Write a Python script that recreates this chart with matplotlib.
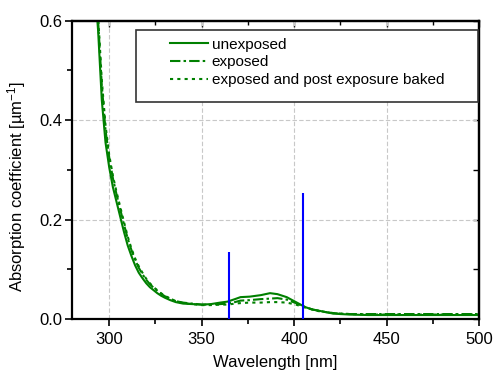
import matplotlib
matplotlib.use("Agg")
import matplotlib.pyplot as plt
from matplotlib.patches import Rectangle
from matplotlib.ticker import MultipleLocator, FormatStrFormatter

plt.rcParams['font.family'] = ['Liberation Sans', 'DejaVu Sans']
plt.rcParams['mathtext.fontset'] = 'custom'
plt.rcParams['mathtext.rm'] = 'Liberation Sans'
plt.rcParams['mathtext.it'] = 'Liberation Sans'

wl_unexp = [292, 294, 296, 298, 300, 302, 304, 306, 308, 310, 312, 314, 316, 318, 320, 322, 324, 326, 328, 330,
            333, 336, 340, 345, 350, 355, 360, 364, 368, 371, 376, 382, 387, 391, 396, 401, 406, 410, 413, 417,
            421, 425, 430, 440, 460, 480, 500]
abs_unexp = [0.68, 0.58, 0.44, 0.355, 0.305, 0.265, 0.235, 0.205, 0.175, 0.148, 0.127, 0.108, 0.093, 0.082, 0.072,
             0.064, 0.058, 0.052, 0.047, 0.043, 0.038, 0.034, 0.031, 0.030, 0.029, 0.030, 0.033, 0.035, 0.040,
             0.044, 0.045, 0.048, 0.052, 0.050, 0.044, 0.034, 0.024, 0.019, 0.017, 0.014, 0.011, 0.010, 0.009,
             0.008, 0.008, 0.008, 0.008]

wl_exp = wl_unexp
abs_exp = [0.70, 0.60, 0.47, 0.38, 0.325, 0.283, 0.25, 0.22, 0.19, 0.162, 0.139, 0.119, 0.103, 0.09, 0.079, 0.07,
           0.063, 0.057, 0.051, 0.046, 0.041, 0.036, 0.033, 0.031, 0.029, 0.029, 0.030, 0.031, 0.034, 0.037,
           0.038, 0.040, 0.041, 0.042, 0.039, 0.032, 0.024, 0.019, 0.017, 0.014, 0.012, 0.011, 0.010, 0.010,
           0.010, 0.010, 0.010]

wl_peb = wl_unexp
abs_peb = [0.71, 0.61, 0.48, 0.39, 0.33, 0.288, 0.255, 0.225, 0.195, 0.166, 0.142, 0.122, 0.106, 0.093, 0.081,
           0.072, 0.064, 0.058, 0.052, 0.047, 0.041, 0.036, 0.032, 0.030, 0.028, 0.028, 0.029, 0.029, 0.031,
           0.032, 0.033, 0.033, 0.034, 0.034, 0.033, 0.029, 0.023, 0.019, 0.016, 0.014, 0.012, 0.011, 0.010,
           0.009, 0.009, 0.009, 0.009]

laser_wl = [365, 405]
laser_height = [0.134, 0.253]

labels = ["unexposed", "exposed", "exposed and post exposure baked"]

fig = plt.figure(figsize=(4.94, 3.74), dpi=100)
ax = fig.add_axes([0.1462, 0.147, 0.8234, 0.798])

green = '#008000'
ax.plot(wl_unexp, abs_unexp, color=green, lw=1.5, ls='-', label=labels[0])
ax.plot(wl_exp, abs_exp, color=green, lw=1.5, ls=(0, (5, 1.5, 1.2, 1.5)), label=labels[1])
ax.plot(wl_peb, abs_peb, color=green, lw=1.5, ls=(0, (1.5, 2)), label=labels[2])
ax.vlines(laser_wl, 0, laser_height, colors='#0000ff', lw=1.5, zorder=3)

ax.set_xlim(280, 500)
ax.set_ylim(0, 0.6)
ax.xaxis.set_major_locator(MultipleLocator(50))
ax.xaxis.set_minor_locator(MultipleLocator(25))
ax.yaxis.set_major_locator(MultipleLocator(0.2))
ax.yaxis.set_minor_locator(MultipleLocator(0.1))
ax.set_xticks([300, 350, 400, 450, 500])
ax.yaxis.set_major_formatter(FormatStrFormatter('%.1f'))

ax.grid(True, which='major', ls=(0, (4, 2)), color='#c8c8c8', lw=0.8)
ax.set_axisbelow(True)

for s in ax.spines.values():
    s.set_linewidth(1.6)
    s.set_color('black')

ax.tick_params(which='both', direction='out', top=False, right=False, labelsize=12, width=1.2, pad=2)
ax.tick_params(which='major', length=5)
ax.tick_params(which='minor', length=3.5)
ax.tick_params(axis='x', which='major', pad=4)

# mirrored inward ticks on top/right
secx = ax.secondary_xaxis('top')
secx.xaxis.set_major_locator(MultipleLocator(50))
secx.xaxis.set_minor_locator(MultipleLocator(25))
secx.tick_params(which='both', direction='in', labeltop=False, width=1.0)
secx.tick_params(which='major', length=4)
secx.tick_params(which='minor', length=3)
secx.spines['top'].set_linewidth(1.6)
secy = ax.secondary_yaxis('right')
secy.yaxis.set_major_locator(MultipleLocator(0.2))
secy.yaxis.set_minor_locator(MultipleLocator(0.1))
secy.tick_params(which='both', direction='in', labelright=False, width=1.0)
secy.tick_params(which='major', length=4)
secy.tick_params(which='minor', length=4)
secy.spines['right'].set_linewidth(1.6)

ax.set_xlabel("Wavelength [nm]", fontsize=12, labelpad=6)
ax.set_ylabel("Absorption coefficient [µm$^{-1}$]", fontsize=12)
ax.yaxis.set_label_coords(-0.108, 0.444)

ax.add_patch(Rectangle((0.157, 0.727), 0.841, 0.242, transform=ax.transAxes,
                       fill=True, facecolor='white', edgecolor='#333333', lw=1.2, zorder=4))
leg = ax.legend(loc='center', bbox_to_anchor=(0.577, 0.86), frameon=False, fontsize=11,
                handlelength=2.5, handletextpad=0.25, labelspacing=0.25, borderpad=0)
leg.set_zorder(5)

fig.savefig("out.png", dpi=100, facecolor='white')
